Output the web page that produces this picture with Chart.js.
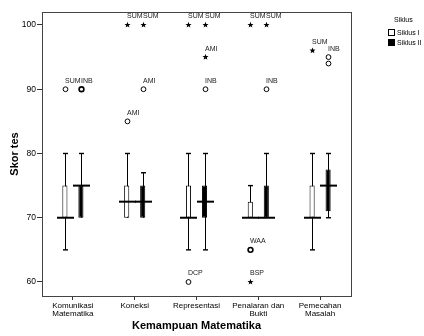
<!DOCTYPE html>
<html>
<head>
<meta charset="utf-8">
<script src="https://cdn.jsdelivr.net/npm/chart.js@4.4.1/dist/chart.umd.min.js"></script>
<style>
    html, body { margin: 0; padding: 0; background: #fff; overflow: hidden; }
    #wrap { position: relative; width: 424px; height: 336px; }
    #legend { position: absolute; left: 0; top: 0; font-family: Arial, "Liberation Sans", sans-serif; font-size: 7px; color: #000; }
    #legend .ttl { position: absolute; left: 394px; top: 16px; white-space: nowrap; }
    #legend .item { position: absolute; left: 388px; white-space: nowrap; line-height: 8px; }
    #legend .box { display: inline-block; width: 7px; height: 7px; border: 1px solid #000; box-sizing: border-box; vertical-align: top; margin-right: 2px; background: #fff; }
</style>
</head>
<body>
<div id="wrap">
    <canvas id="boxChart" width="424" height="336"></canvas>
    <div id="legend"></div>
</div>
<script>
// ==================== DATA ====================
const categories = [['Komunikasi', 'Matematika'], 'Koneksi', 'Representasi', ['Penalaran dan', 'Bukti'], ['Pemecahan', 'Masalah']];
const seriesNames = ['Siklus I', 'Siklus II'];
const yTicks = [60, 70, 80, 90, 100];

// five-number summaries, one value per category
const siklus1Min    = [65, 70, 65, 70, 65];
const siklus1Q1     = [70, 70, 70, 70, 70];
const siklus1Median = [70, 72.5, 70, 70, 70];
const siklus1Q3     = [75, 75, 75, 72.5, 75];
const siklus1Max    = [80, 80, 80, 75, 80];

const siklus2Min    = [70, 70, 65, 70, 70];
const siklus2Q1     = [70, 70, 70, 70, 71];
const siklus2Median = [75, 72.5, 72.5, 70, 75];
const siklus2Q3     = [75, 75, 75, 75, 77.5];
const siklus2Max    = [80, 77, 80, 80, 80];

// outliers (o) and extremes (*): category index, series index, value, case label, cases
const outlierCategory = [0, 0, 1, 1, 1, 1, 2, 2, 2, 2, 2, 3, 3, 3, 3, 3, 4, 4, 4];
const outlierSeries   = [0, 1, 0, 0, 1, 1, 0, 0, 1, 1, 1, 0, 0, 0, 1, 1, 0, 1, 1];
const outlierValue    = [90, 90, 85, 100, 90, 100, 60, 100, 90, 95, 100, 65, 60, 100, 90, 100, 96, 95, 94];
const outlierLabel    = ['SUM', 'INB', 'AMI', 'SUM', 'AMI', 'SUM', 'DCP', 'SUM', 'INB', 'AMI', 'SUM', 'WAA', 'BSP', 'SUM', 'INB', 'SUM', 'SUM', 'INB', ''];
const outlierKind     = ['o', 'o', 'o', '*', 'o', '*', 'o', '*', 'o', '*', '*', 'o', '*', '*', 'o', '*', '*', 'o', 'o'];
const outlierCases    = [1, 2, 1, 1, 1, 1, 1, 1, 1, 1, 1, 2, 1, 1, 1, 1, 1, 1, 1];

const summaries = [
    { min: siklus1Min, q1: siklus1Q1, median: siklus1Median, q3: siklus1Q3, max: siklus1Max },
    { min: siklus2Min, q1: siklus2Q1, median: siklus2Median, q3: siklus2Q3, max: siklus2Max }
];

const FONT = 'Arial, "Liberation Sans", sans-serif';

// ==================== LEGEND (html) ====================
const legendEl = document.getElementById('legend');
let legendHtml = '<div class="ttl">Siklus</div>';
seriesNames.forEach((name, i) => {
    legendHtml += `<div class="item" style="top:${29 + i * 10}px"><span class="box" style="background:${i === 0 ? '#fff' : '#000'}"></span>${name}</div>`;
});
legendEl.innerHTML = legendHtml;

// ==================== BOXPLOT PLUGIN ====================
function drawStar(ctx, x, y, r) {
    ctx.beginPath();
    for (let k = 0; k < 10; k++) {
        const rad = k % 2 === 0 ? r : r * 0.42;
        const a = -Math.PI / 2 + k * Math.PI / 5;
        const px = x + rad * Math.cos(a);
        const py = y + rad * Math.sin(a);
        if (k === 0) ctx.moveTo(px, py); else ctx.lineTo(px, py);
    }
    ctx.closePath();
    ctx.fill();
}

const boxplotPlugin = {
    id: 'boxplot',
    beforeDatasetsDraw(chart) {
        // whiskers behind the boxes
        const ctx = chart.ctx;
        const y = chart.scales.y;
        ctx.save();
        ctx.strokeStyle = '#000';
        summaries.forEach((s, i) => {
            const meta = chart.getDatasetMeta(i);
            meta.data.forEach((bar, j) => {
                const x = Math.round(bar.x) + 0.5;
                const top = y.getPixelForValue(s.max[j]);
                const bot = y.getPixelForValue(s.min[j]);
                ctx.lineWidth = 1;
                ctx.beginPath();
                ctx.moveTo(x, top);
                ctx.lineTo(x, bot);
                ctx.stroke();
                ctx.lineWidth = 1.4;
                [s.max[j], s.min[j]].forEach(v => {
                    if (v === s.q1[j] || v === s.q3[j]) return;
                    const py = y.getPixelForValue(v);
                    ctx.beginPath();
                    ctx.moveTo(x - 2.5, py);
                    ctx.lineTo(x + 2.5, py);
                    ctx.stroke();
                });
            });
        });
        ctx.restore();
    },
    afterDatasetsDraw(chart) {
        const ctx = chart.ctx;
        const y = chart.scales.y;
        const area = chart.chartArea;
        ctx.save();

        // medians
        ctx.strokeStyle = '#000';
        ctx.lineWidth = 2;
        summaries.forEach((s, i) => {
            const meta = chart.getDatasetMeta(i);
            meta.data.forEach((bar, j) => {
                const x = Math.round(bar.x) + 0.5;
                const py = y.getPixelForValue(s.median[j]);
                ctx.beginPath();
                ctx.moveTo(x - 8.5, py);
                ctx.lineTo(x + 8.5, py);
                ctx.stroke();
            });
        });

        // outliers and extremes
        ctx.font = '7px ' + FONT;
        ctx.textAlign = 'left';
        ctx.textBaseline = 'middle';
        outlierValue.forEach((v, k) => {
            const bar = chart.getDatasetMeta(outlierSeries[k]).data[outlierCategory[k]];
            const x = Math.round(bar.x) + 0.5;
            const py = y.getPixelForValue(v);
            ctx.fillStyle = '#000';
            if (outlierKind[k] === '*') {
                drawStar(ctx, x, py, 3.2);
            } else {
                ctx.lineWidth = outlierCases[k] > 1 ? 1.6 : 1;
                ctx.beginPath();
                ctx.arc(x, py, 2.4, 0, Math.PI * 2);
                ctx.stroke();
            }
            if (outlierLabel[k]) {
                ctx.fillStyle = '#222';
                ctx.fillText(outlierLabel[k], x - 0.5, py - 8.5);
            }
        });

        // frame around the plot
        ctx.strokeStyle = '#444';
        ctx.lineWidth = 1;
        ctx.strokeRect(Math.round(area.left) + 0.5, Math.round(area.top) + 0.5,
            Math.round(area.right - area.left), Math.round(area.bottom - area.top));
        ctx.restore();
    }
};

// ==================== CHART ====================
const ctx = document.getElementById('boxChart').getContext('2d');
const boxChart = new Chart(ctx, {
    type: 'bar',
    data: {
        labels: categories,
        datasets: [
            {
                label: seriesNames[0],
                data: siklus1Q1.map((q, j) => [q, siklus1Q3[j]]),
                backgroundColor: '#fff',
                borderColor: '#000',
                borderWidth: 1,
                borderSkipped: false,
                categoryPercentage: 0.518,
                barPercentage: 0.32
            },
            {
                label: seriesNames[1],
                data: siklus2Q1.map((q, j) => [q, siklus2Q3[j]]),
                backgroundColor: '#000',
                borderColor: '#000',
                borderWidth: 1,
                borderSkipped: false,
                categoryPercentage: 0.518,
                barPercentage: 0.32
            }
        ]
    },
    options: {
        responsive: false,
        animation: false,
        events: [],
        layout: { padding: { left: 0, top: 12, right: 73, bottom: 0 } },
        plugins: {
            legend: { display: false },
            tooltip: { enabled: false }
        },
        scales: {
            x: {
                grid: { display: true, drawOnChartArea: false, offset: false, tickLength: 4, color: '#333' },
                border: { display: false },
                ticks: { color: '#000', padding: 2, maxRotation: 0, autoSkip: false,
                    font: { family: FONT, size: 8, lineHeight: 1 } },
                title: { display: true, text: 'Kemampuan Matematika', color: '#000',
                    font: { family: FONT, size: 11, weight: 'bold' }, padding: { top: 0, bottom: 3 } },
                afterFit: (scale) => { scale.height = 40; }
            },
            y: {
                min: 57.82,
                max: 102.02,
                grid: { display: true, drawOnChartArea: false, tickLength: 5, color: '#333' },
                border: { display: false },
                ticks: { color: '#000', padding: 1, font: { family: FONT, size: 8.5 } },
                afterBuildTicks: (scale) => { scale.ticks = yTicks.map(v => ({ value: v })); },
                title: { display: true, text: 'Skor tes', color: '#000',
                    font: { family: FONT, size: 11, weight: 'bold' }, padding: { top: 8, bottom: 0 } },
                afterFit: (scale) => { scale.width = 42; }
            }
        }
    },
    plugins: [boxplotPlugin]
});
</script>
</body>
</html>
